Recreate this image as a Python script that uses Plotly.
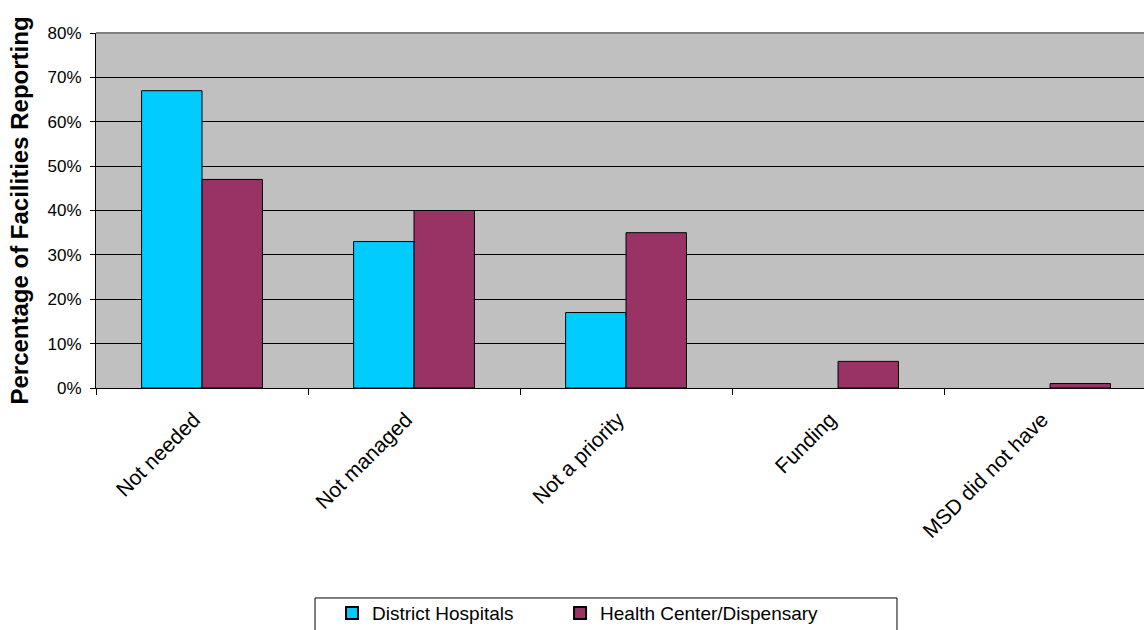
import plotly.graph_objects as go

categories = ["Not needed", "Not managed", "Not a priority", "Funding", "MSD did not have"]
district_hospitals = [0.67, 0.33, 0.17, 0.0, 0.0]
health_center = [0.47, 0.40, 0.35, 0.06, 0.01]
y_ticks = [0, 0.1, 0.2, 0.3, 0.4, 0.5, 0.6, 0.7, 0.8]

FONT = "Arial, Liberation Sans, sans-serif"


def outline_widths(values):
    # no outline on empty bars, so a zero value leaves no stray line on the axis
    return [1 if v > 0 else 0 for v in values]


fig = go.Figure()
fig.add_trace(go.Bar(
    name="District Hospitals", x=categories, y=district_hospitals,
    marker=dict(color="#00CCFF",
                line=dict(color="#000000", width=outline_widths(district_hospitals))),
    legend="legend",
))
fig.add_trace(go.Bar(
    name="Health Center/Dispensary", x=categories, y=health_center,
    marker=dict(color="#993366",
                line=dict(color="#000000", width=outline_widths(health_center))),
    legend="legend2",
))

legend_style = dict(
    orientation="h", yref="container", y=0.0571, xanchor="left", yanchor="top",
    borderwidth=0, bgcolor="rgba(0,0,0,0)",
    font=dict(size=19, family=FONT), itemsizing="constant",
)

fig.update_layout(
    width=1144, height=630,
    margin=dict(l=96, r=0, t=33, b=242),
    paper_bgcolor="white", plot_bgcolor="#C0C0C0",
    barmode="group", bargap=0.43, bargroupgap=0,
    font=dict(family=FONT, color="black", size=17),
    showlegend=True,
    legend=dict(x=0.2252, **legend_style),
    legend2=dict(x=0.4428, **legend_style),
    xaxis=dict(
        type="category", range=[-0.5, 4.443], tickangle=-45,
        tickson="boundaries", ticks="outside", ticklen=6, tickcolor="black",
        showline=True, linecolor="black", linewidth=1,
        tickfont=dict(size=21, family=FONT), showgrid=False,
        ticklabelstandoff=10, ticklabelshift=-8, automargin=False,
    ),
    yaxis=dict(
        range=[0, 0.8], tickvals=y_ticks, tickformat=".0%",
        ticks="outside", ticklen=5, tickcolor="black",
        showline=True, linecolor="black", linewidth=1,
        showgrid=True, gridcolor="black", gridwidth=1, zeroline=False,
        tickfont=dict(size=17, family=FONT), ticklabelstandoff=5,
        title=dict(text="<b>Percentage of Facilities Reporting</b>",
                   font=dict(size=24, family=FONT), standoff=12),
        automargin=False,
    ),
    shapes=[
        # plot frame top edge
        dict(type="line", xref="paper", yref="paper", x0=0, x1=1, y0=1, y1=1,
             line=dict(color="#808080", width=2)),
        # legend frame
        dict(type="rect", xref="paper", yref="paper",
             x0=0.209, x1=0.7643, y0=-0.5915, y1=-0.72,
             line=dict(color="black", width=1), fillcolor="rgba(0,0,0,0)"),
    ],
)

fig.write_html("out.html")
